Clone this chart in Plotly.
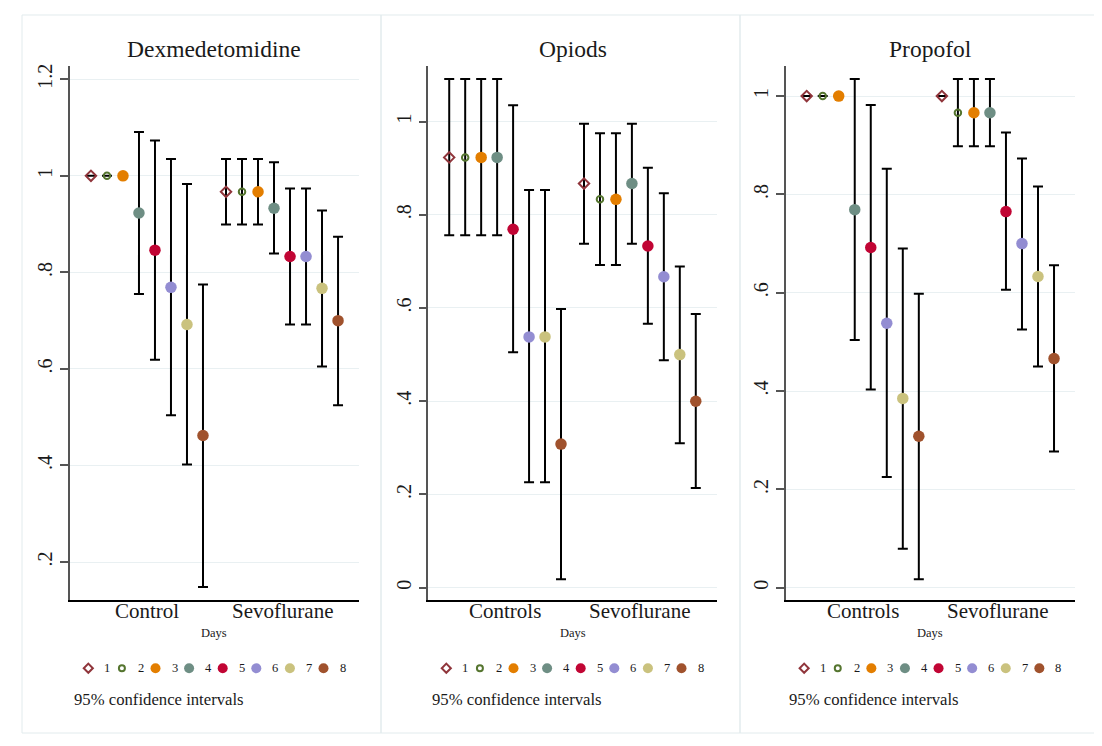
import plotly.graph_objects as go

# ---------------- data ----------------
days = [1, 2, 3, 4, 5, 6, 7, 8]
day_labels = ["1", "2", "3", "4", "5", "6", "7", "8"]
panel_titles = ["Dexmedetomidine", "Opiods", "Propofol"]
group_labels_dex = ["Control", "Sevoflurane"]
group_labels_opi = ["Controls", "Sevoflurane"]
group_labels_pro = ["Controls", "Sevoflurane"]

dex_ctrl_mean = [1.0, 1.0, 1.0, 0.923, 0.846, 0.769, 0.692, 0.462]
dex_ctrl_lo = [1.0, 1.0, 1.0, 0.755, 0.619, 0.504, 0.402, 0.148]
dex_ctrl_hi = [1.0, 1.0, 1.0, 1.091, 1.073, 1.035, 0.983, 0.775]
dex_sevo_mean = [0.967, 0.967, 0.967, 0.933, 0.833, 0.833, 0.767, 0.700]
dex_sevo_lo = [0.899, 0.899, 0.899, 0.839, 0.692, 0.692, 0.605, 0.525]
dex_sevo_hi = [1.035, 1.035, 1.035, 1.028, 0.974, 0.974, 0.928, 0.874]

opi_ctrl_mean = [0.923, 0.923, 0.923, 0.923, 0.769, 0.538, 0.538, 0.308]
opi_ctrl_lo = [0.756, 0.756, 0.756, 0.756, 0.505, 0.226, 0.226, 0.018]
opi_ctrl_hi = [1.091, 1.091, 1.091, 1.091, 1.035, 0.853, 0.853, 0.598]
opi_sevo_mean = [0.867, 0.833, 0.833, 0.867, 0.733, 0.667, 0.500, 0.400]
opi_sevo_lo = [0.738, 0.692, 0.692, 0.738, 0.566, 0.488, 0.310, 0.214]
opi_sevo_hi = [0.995, 0.975, 0.975, 0.995, 0.901, 0.846, 0.689, 0.587]

pro_ctrl_mean = [1.0, 1.0, 1.0, 0.769, 0.692, 0.538, 0.385, 0.308]
pro_ctrl_lo = [1.0, 1.0, 1.0, 0.504, 0.403, 0.225, 0.079, 0.017]
pro_ctrl_hi = [1.0, 1.0, 1.0, 1.035, 0.982, 0.852, 0.690, 0.598]
pro_sevo_mean = [1.0, 0.966, 0.966, 0.966, 0.765, 0.700, 0.633, 0.466]
pro_sevo_lo = [1.0, 0.898, 0.898, 0.898, 0.606, 0.525, 0.450, 0.277]
pro_sevo_hi = [1.0, 1.035, 1.035, 1.035, 0.926, 0.873, 0.816, 0.656]

dex_yticks = [0.2, 0.4, 0.6, 0.8, 1.0, 1.2]
dex_yticklabels = [".2", ".4", ".6", ".8", "1", "1.2"]
opi_yticks = [0.0, 0.2, 0.4, 0.6, 0.8, 1.0]
opi_yticklabels = ["0", ".2", ".4", ".6", ".8", "1"]
pro_yticks = [0.0, 0.2, 0.4, 0.6, 0.8, 1.0]
pro_yticklabels = ["0", ".2", ".4", ".6", ".8", "1"]

# ---------------- styles ----------------
PAGE_W, PAGE_H = 1102, 746
BODY = 8  # default page margin around the plot div
W, H = PAGE_W - 2 * BODY, PAGE_H - 2 * BODY
FONT = "Liberation Serif, Tinos, 'Times New Roman', DejaVu Serif, serif"
TXT = "#1a1a1a"
day_colors = ["#90353B", "#55752F", "#E37E00", "#6E8E84",
              "#C10534", "#938DD2", "#CAC27E", "#A0522D"]
day_symbols = ["diamond-open", "circle-open", "circle", "circle",
               "circle", "circle", "circle", "circle"]
day_sizes = [8, 6.5, 11.5, 11.5, 11.5, 11.5, 11.5, 11.5]
legend_sizes = [7, 6, 10, 10, 10, 10, 10, 10]

plot_left = [70, 428.3, 785.7]
plot_right = [359, 716.7, 1075]
plot_top, plot_bottom = 64, 600
y_ranges = [[0.1205, 1.2279], [-0.0272, 1.1194], [-0.0258, 1.0615]]
x_range = [-0.31, 17.75]
group_gap = 1.44

panels = [
    (dex_ctrl_mean, dex_ctrl_lo, dex_ctrl_hi, dex_sevo_mean, dex_sevo_lo, dex_sevo_hi,
     group_labels_dex, dex_yticks, dex_yticklabels),
    (opi_ctrl_mean, opi_ctrl_lo, opi_ctrl_hi, opi_sevo_mean, opi_sevo_lo, opi_sevo_hi,
     group_labels_opi, opi_yticks, opi_yticklabels),
    (pro_ctrl_mean, pro_ctrl_lo, pro_ctrl_hi, pro_sevo_mean, pro_sevo_lo, pro_sevo_hi,
     group_labels_pro, pro_yticks, pro_yticklabels),
]


def fx(px):
    return (px - BODY) / W


def fy(py):
    return 1 - (py - BODY) / H


fig = go.Figure()
layout = dict(
    width=W, height=H, margin=dict(l=0, r=0, t=0, b=0, pad=0),
    paper_bgcolor="white", plot_bgcolor="rgba(0,0,0,0)",
    showlegend=False, font=dict(family=FONT, color=TXT),
)
annotations = []
shapes = []

# panel frames
frames = [(22, 381), (381, 740), (740, 1098)]
for x0, x1 in frames:
    shapes.append(dict(type="rect", xref="paper", yref="paper",
                       x0=fx(x0), x1=fx(x1), y0=fy(733), y1=fy(13),
                       line=dict(color="#E2EBED", width=1), layer="below"))

for p, (cm, cl, ch, sm, sl, sh, glabels, yt, ytl) in enumerate(panels):
    xa = "x" if p == 0 else f"x{p+1}"
    ya = "y" if p == 0 else f"y{p+1}"
    xkey = "xaxis" if p == 0 else f"xaxis{p+1}"
    ykey = "yaxis" if p == 0 else f"yaxis{p+1}"
    for i, d in enumerate(days):
        xs = [d, 8 + group_gap + (d - 1)]  # control position, sevoflurane position
        means = [cm[i], sm[i]]
        up = [ch[i] - cm[i], sh[i] - sm[i]]
        dn = [cm[i] - cl[i], sm[i] - sl[i]]
        open_sym = day_symbols[i].endswith("open")
        fig.add_trace(go.Scatter(
            x=xs, y=means, mode="markers", xaxis=xa, yaxis=ya,
            name=day_labels[i],
            marker=dict(symbol=day_symbols[i], size=day_sizes[i], color=day_colors[i],
                        line=dict(width=2 if open_sym else 0, color=day_colors[i])),
            error_y=dict(type="data", symmetric=False, array=up, arrayminus=dn,
                         color="black", thickness=2, width=5),
            hoverinfo="skip",
        ))
    group_centers = [(days[0] + days[-1]) / 2, 8 + group_gap + (days[0] + days[-1]) / 2 - 1]
    layout[xkey] = dict(
        domain=[fx(plot_left[p]), fx(plot_right[p])], range=x_range,
        anchor=ya, showgrid=False, zeroline=False,
        showline=True, linecolor="black", linewidth=2,
        showticklabels=False, ticks="", fixedrange=True,
    )
    layout[ykey] = dict(
        domain=[fy(plot_bottom), fy(plot_top)], range=y_ranges[p],
        anchor=xa, showgrid=True, gridcolor="#E9F0F2", gridwidth=1.2,
        zeroline=False, showline=True, linecolor="#555555", linewidth=1.5,
        tickvals=yt, ticktext=ytl, ticks="outside", ticklen=8,
        tickcolor="#555555", tickwidth=1.5, tickangle=-90,
        tickfont=dict(family=FONT, size=20, color=TXT),
        fixedrange=True,
    )
    # group labels placed under the x axis at the group centres
    for gc, gl in zip(group_centers, glabels):
        annotations.append(dict(text=gl, xref=xa, yref="paper", x=gc, y=fy(611),
                                xanchor="center", yanchor="middle", showarrow=False,
                                font=dict(family=FONT, size=21, color=TXT)))
    cx = (plot_left[p] + plot_right[p]) / 2
    annotations.append(dict(text=panel_titles[p], xref="paper", yref="paper",
                            x=fx(cx), y=fy(47), xanchor="center", yanchor="middle",
                            showarrow=False, font=dict(family=FONT, size=23.5, color=TXT)))
    annotations.append(dict(text="Days", xref="paper", yref="paper",
                            x=fx(cx), y=fy(633), xanchor="center", yanchor="middle",
                            showarrow=False, font=dict(family=FONT, size=12.5, color=TXT)))
    annotations.append(dict(text="95% confidence intervals", xref="paper", yref="paper",
                            x=fx(plot_left[p] + 1.5), y=fy(699), xanchor="left", yanchor="middle",
                            showarrow=False, font=dict(family=FONT, size=16.7, color=TXT)))
    # manual legend (overlay axis in page-pixel coordinates)
    for i, lab in enumerate(day_labels):
        mx = cx - 126.2 + 33.6 * i
        open_sym = day_symbols[i].endswith("open")
        fig.add_trace(go.Scatter(
            x=[mx], y=[668], mode="markers", xaxis="x4", yaxis="y4",
            marker=dict(symbol=day_symbols[i], size=legend_sizes[i], color=day_colors[i],
                        line=dict(width=2 if open_sym else 0, color=day_colors[i])),
            hoverinfo="skip",
        ))
        annotations.append(dict(text=lab, xref="paper", yref="paper",
                                x=fx(mx + 14), y=fy(668), xanchor="left", yanchor="middle",
                                showarrow=False, font=dict(family=FONT, size=12.5, color=TXT)))

layout["xaxis4"] = dict(domain=[0, 1], range=[BODY, BODY + W], anchor="y4", visible=False,
                        showgrid=False, zeroline=False, fixedrange=True)
layout["yaxis4"] = dict(domain=[0, 1], range=[BODY + H, BODY], anchor="x4", visible=False,
                        showgrid=False, zeroline=False, fixedrange=True)
layout["annotations"] = annotations
layout["shapes"] = shapes
fig.update_layout(**layout)

fig.write_html("out.html")
